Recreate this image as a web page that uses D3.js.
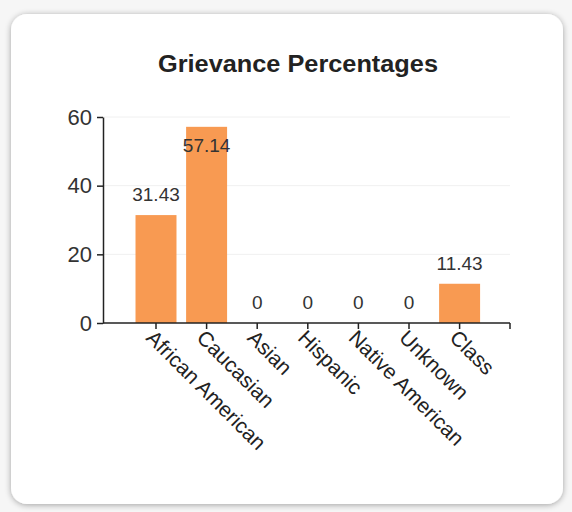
<!DOCTYPE html>
<html>
<head>
<meta charset="utf-8">
<script src="https://cdn.jsdelivr.net/npm/d3@7"></script>
<style>
  body { margin: 0; background: #f6f6f6; }
  svg { display: block; font-family: "Liberation Sans", Arial, sans-serif; }
</style>
</head>
<body>
<svg id="chart" width="572" height="512"></svg>
<script>
const categories = ['African American', 'Caucasian', 'Asian', 'Hispanic', 'Native American', 'Unknown', 'Class']
const values = [31.43, 57.14, 0, 0, 0, 0, 11.43]
const yTicks = [0, 20, 40, 60]

const svg = d3.select('#chart')

const defs = svg.append('defs')
const blur = defs.append('filter').attr('id', 'shadow').attr('x', '-5%').attr('y', '-5%').attr('width', '110%').attr('height', '110%')
blur.append('feGaussianBlur').attr('in', 'SourceAlpha').attr('stdDeviation', 3)
blur.append('feOffset').attr('dx', 0).attr('dy', 1).attr('result', 'b')
blur.append('feComponentTransfer').append('feFuncA').attr('type', 'linear').attr('slope', 0.35)
const merge = blur.append('feMerge')
merge.append('feMergeNode')
merge.append('feMergeNode').attr('in', 'SourceGraphic')

// card
svg.append('rect')
  .attr('x', 11).attr('y', 14)
  .attr('width', 552).attr('height', 490)
  .attr('rx', 16)
  .attr('fill', '#fff')
  .attr('filter', 'url(#shadow)')

svg.append('text')
  .attr('x', 298).attr('y', 72)
  .attr('text-anchor', 'middle')
  .attr('font-size', 23)
  .attr('font-weight', 'bold')
  .attr('fill', '#222')
  .attr('textLength', 280)
  .attr('lengthAdjust', 'spacingAndGlyphs')
  .text('Grievance Percentages')

const plotLeft = 103, plotRight = 510, plotTop = 117, plotBottom = 323

const y = d3.scaleLinear().domain([0, 60]).range([plotBottom, plotTop])
const x = d3.scaleBand().domain(categories).range([130.7, 484.9]).paddingInner(0.19).paddingOuter(0.095)

// grid
svg.append('g').selectAll('line')
  .data(yTicks.slice(1))
  .join('line')
  .attr('x1', plotLeft).attr('x2', plotRight)
  .attr('y1', d => y(d)).attr('y2', d => y(d))
  .attr('stroke', '#f0f0f0')

// bars
svg.append('g').selectAll('rect')
  .data(values)
  .join('rect')
  .attr('x', (d, i) => x(categories[i]))
  .attr('width', x.bandwidth())
  .attr('y', d => y(d))
  .attr('height', d => plotBottom - y(d))
  .attr('fill', '#f89a52')

// value labels
svg.append('g').selectAll('text')
  .data(values)
  .join('text')
  .attr('x', (d, i) => x(categories[i]) + x.bandwidth() / 2)
  .attr('y', d => (y(d) - 14 < plotTop ? y(d) + 25 : y(d) - 14))
  .attr('text-anchor', 'middle')
  .attr('font-size', 19)
  .attr('fill', '#333')
  .text(d => d)

// y axis
const yAxis = svg.append('g')
  .attr('transform', `translate(${plotLeft},0)`)
  .call(d3.axisLeft(y).tickValues(yTicks).tickSize(6).tickSizeOuter(0))
yAxis.select('.domain').attr('stroke', '#222').attr('stroke-width', 1.5)
yAxis.selectAll('.tick line').attr('stroke', '#222').attr('stroke-width', 1.5)
yAxis.selectAll('.tick text').attr('font-size', 22).attr('fill', '#333').attr('font-family', '"Liberation Sans", Arial, sans-serif').attr('x', -11)

// x axis
const xAxis = svg.append('g')
  .attr('transform', `translate(0,${plotBottom})`)
  .call(d3.axisBottom(x).tickSize(6).tickSizeOuter(0))
xAxis.select('.domain').attr('d', `M${plotLeft},0H${plotRight}`).attr('stroke', '#222').attr('stroke-width', 1.5)
xAxis.selectAll('.tick line').attr('stroke', '#222').attr('stroke-width', 1.5)
xAxis.append('line').attr('x1', plotRight).attr('x2', plotRight).attr('y1', 0).attr('y2', 6).attr('stroke', '#222').attr('stroke-width', 1.5)
xAxis.selectAll('.tick text')
  .attr('font-size', 21)
  .attr('fill', '#222')
  .attr('font-family', '"Liberation Sans", Arial, sans-serif')
  .attr('text-anchor', 'start')
  .attr('x', 0).attr('y', 0).attr('dy', 0)
  .attr('transform', 'translate(-11,16) rotate(45)')
</script>
</body>
</html>
